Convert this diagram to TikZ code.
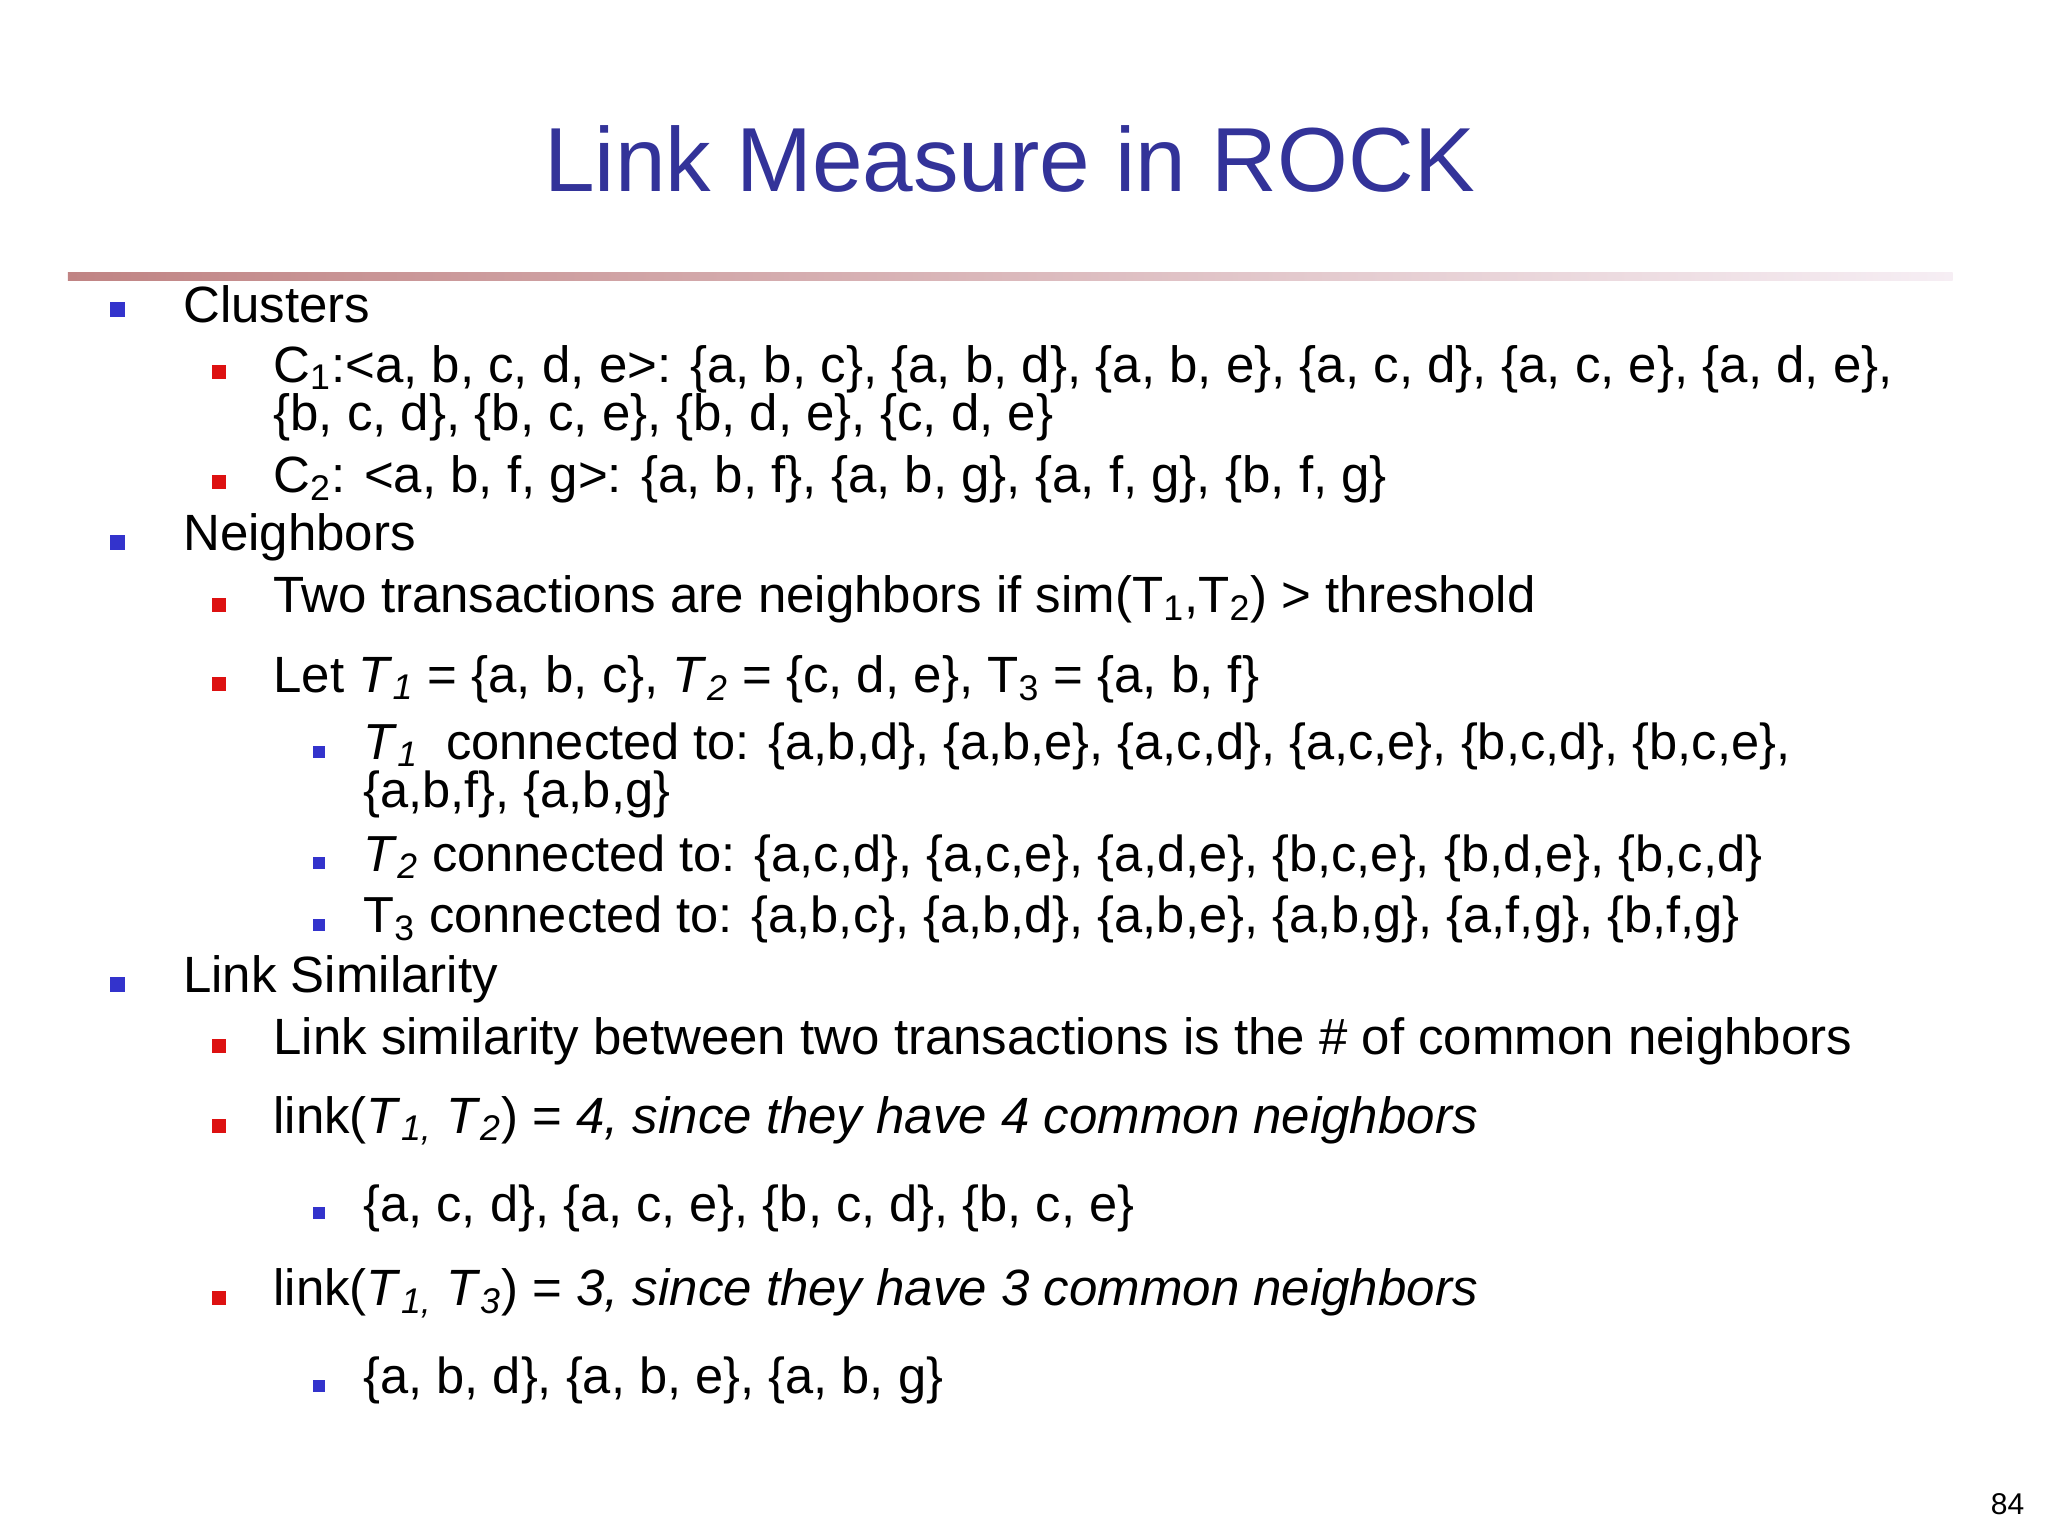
\documentclass[tikz,border=0pt]{standalone}
\usepackage{fontspec}
\setmainfont{Liberation Sans}
\definecolor{ttl}{HTML}{333399}
\definecolor{bl}{HTML}{3333CC}
\definecolor{rd}{HTML}{DD1111}
\definecolor{lnA}{HTML}{C08484}
\definecolor{lnB}{HTML}{F6EEF4}
\tikzset{
 lA/.style={anchor=west,font=\fontsize{25.5}{28}\selectfont,inner sep=0pt},
 lB/.style={anchor=west,font=\fontsize{25.5}{24.2}\selectfont,inner sep=0pt,align=left},
 lC/.style={anchor=west,font=\fontsize{25.3}{24.2}\selectfont,inner sep=0pt,align=left},
 bA/.style={fill=bl,minimum size=7.5pt,inner sep=0pt},
 bB/.style={fill=rd,minimum size=7pt,inner sep=0pt},
 bC/.style={fill=bl,minimum size=6pt,inner sep=0pt},
}
\newcommand{\It}[1]{\textit{T}\textsubscript{\textit{#1}}}
\newcommand{\Tn}[1]{T\textsubscript{#1}}
\begin{document}
\begin{tikzpicture}[x=0.653pt,y=-0.653pt]
\fill[white] (0,0) rectangle (1568,1176);
\node[font=\fontsize{45.5}{50}\selectfont,text=ttl] (title) at (773,122) {Link Measure in ROCK};
\shade[left color=lnA,right color=lnB] (52,209) rectangle (1495,215);
\node[bA] (b1) at (90,237) {}; \node[lA] (t1) at (140,233) {Clusters};
\node[bB] (b2) at (168,285) {}; \node[lB] (t2) at (209,301) {C\textsubscript{1}:<a, b, c, d, e>: \{a, b, c\}, \{a, b, d\}, \{a, b, e\}, \{a, c, d\}, \{a, c, e\}, \{a, d, e\},\\\{b, c, d\}, \{b, c, e\}, \{b, d, e\}, \{c, d, e\}};
\node[bB] (b3) at (168,369) {}; \node[lB] (t3) at (209,367) {C\textsubscript{2}: <a, b, f, g>: \{a, b, f\}, \{a, b, g\}, \{a, f, g\}, \{b, f, g\}};
\node[bA] (b4) at (90,415) {}; \node[lA] (t4) at (140,411) {Neighbors};
\node[bB] (b5) at (168,463) {}; \node[lB] (t5) at (209,459) {Two transactions are neighbors if sim(\Tn1,\Tn2) > threshold};
\node[bB] (b6) at (168,524) {}; \node[lB] (t6) at (209,520) {Let \It1 = \{a, b, c\}, \It2 = \{c, d, e\}, \Tn3 = \{a, b, f\}};
\node[bC] (b7) at (244,576) {}; \node[lC] (t7) at (278,590) {\It1 \ connected to: \{a,b,d\}, \{a,b,e\}, \{a,c,d\}, \{a,c,e\}, \{b,c,d\}, \{b,c,e\},\\\{a,b,f\}, \{a,b,g\}};
\node[bC] (b8) at (244,661) {}; \node[lC] (t8) at (278,657) {\It2 connected to: \{a,c,d\}, \{a,c,e\}, \{a,d,e\}, \{b,c,e\}, \{b,d,e\}, \{b,c,d\}};
\node[bC] (b9) at (244,708) {}; \node[lC] (t9) at (278,704) {\Tn3 connected to: \{a,b,c\}, \{a,b,d\}, \{a,b,e\}, \{a,b,g\}, \{a,f,g\}, \{b,f,g\}};
\node[bA] (b10) at (90,754) {}; \node[lA] (t10) at (140,750) {Link Similarity};
\node[bB] (b11) at (168,801) {}; \node[lB] (t11) at (209,797) {Link similarity between two transactions is the \# of common neighbors};
\node[bB] (b12) at (168,862) {}; \node[lB] (t12) at (209,858) {link(\textit{T}\textsubscript{\textit{1,}} \It2) = \textit{4, since they have 4 common neighbors}};
\node[bC] (b13) at (244,929) {}; \node[lC] (t13) at (278,925) {\{a, c, d\}, \{a, c, e\}, \{b, c, d\}, \{b, c, e\}};
\node[bB] (b14) at (168,994) {}; \node[lB] (t14) at (209,990) {link(\textit{T}\textsubscript{\textit{1,}} \It3) = \textit{3, since they have 3 common neighbors}};
\node[bC] (b15) at (244,1061) {}; \node[lC] (t15) at (278,1057) {\{a, b, d\}, \{a, b, e\}, \{a, b, g\}};
\node[font=\fontsize{15}{16}\selectfont] (pg) at (1537,1152) {84};
\end{tikzpicture}
\end{document}
